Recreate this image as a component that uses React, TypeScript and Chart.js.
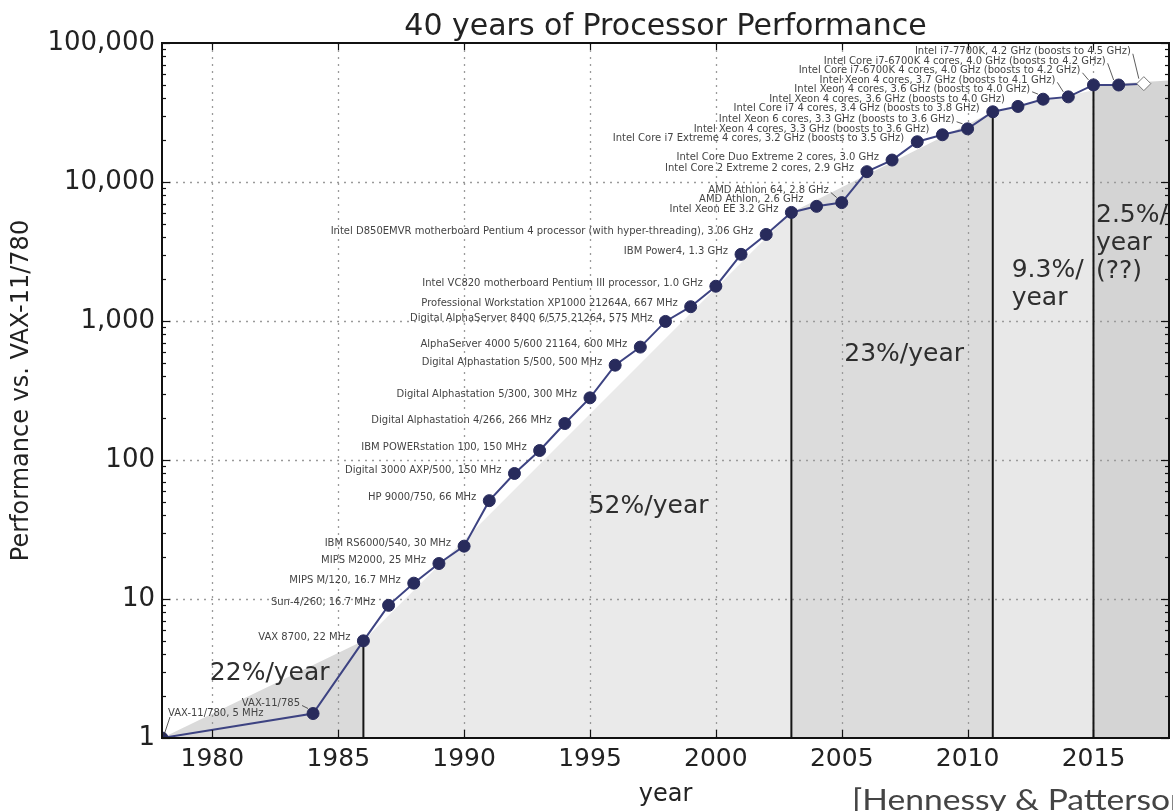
import React, { useEffect, useRef } from "react";
import { Chart, registerables } from "chart.js";

Chart.register(...registerables);

// Processor performance relative to VAX-11/780 (log scale), one entry per year
const years = [
  1978, 1984, 1986, 1987, 1988, 1989, 1990, 1991, 1992, 1993, 1994, 1995, 1996,
  1997, 1998, 1999, 2000, 2001, 2002, 2003, 2004, 2005, 2006, 2007, 2008, 2009,
  2010, 2011, 2012, 2013, 2014, 2015, 2016, 2017,
];
const performance = [
  1, 1.5, 5, 9, 13, 18, 24, 51, 80, 117, 183, 280, 481, 649, 993, 1267, 1779,
  3016, 4195, 6043, 6681, 7108, 11865, 14387, 19484, 21871, 24129, 31999,
  34967, 39419, 40967, 49935, 49870, 51000,
];
const processors = [
  "VAX-11/780, 5 MHz",
  "VAX-11/785",
  "VAX 8700, 22 MHz",
  "Sun-4/260, 16.7 MHz",
  "MIPS M/120, 16.7 MHz",
  "MIPS M2000, 25 MHz",
  "IBM RS6000/540, 30 MHz",
  "HP 9000/750, 66 MHz",
  "Digital 3000 AXP/500, 150 MHz",
  "IBM POWERstation 100, 150 MHz",
  "Digital Alphastation 4/266, 266 MHz",
  "Digital Alphastation 5/300, 300 MHz",
  "Digital Alphastation 5/500, 500 MHz",
  "AlphaServer 4000 5/600 21164, 600 MHz",
  "Digital AlphaServer 8400 6/575 21264, 575 MHz",
  "Professional Workstation XP1000 21264A, 667 MHz",
  "Intel VC820 motherboard Pentium III processor, 1.0 GHz",
  "IBM Power4, 1.3 GHz",
  "Intel D850EMVR motherboard Pentium 4 processor (with hyper-threading), 3.06 GHz",
  "Intel Xeon EE 3.2 GHz",
  "AMD Athlon, 2.6 GHz",
  "AMD Athlon 64, 2.8 GHz",
  "Intel Core 2 Extreme 2 cores, 2.9 GHz",
  "Intel Core Duo Extreme 2 cores, 3.0 GHz",
  "Intel Core i7 Extreme 4 cores, 3.2 GHz (boosts to 3.5 GHz)",
  "Intel Xeon 4 cores, 3.3 GHz (boosts to 3.6 GHz)",
  "Intel Xeon 6 cores, 3.3 GHz (boosts to 3.6 GHz)",
  "Intel Core i7 4 cores, 3.4 GHz (boosts to 3.8 GHz)",
  "Intel Xeon 4 cores, 3.6 GHz (boosts to 4.0 GHz)",
  "Intel Xeon 4 cores, 3.6 GHz (boosts to 4.0 GHz)",
  "Intel Xeon 4 cores, 3.7 GHz (boosts to 4.1 GHz)",
  "Intel Core i7-6700K 4 cores, 4.0 GHz (boosts to 4.2 GHz)",
  "Intel Core i7-6700K 4 cores, 4.0 GHz (boosts to 4.2 GHz)",
  "Intel i7-7700K, 4.2 GHz (boosts to 4.5 GHz)",
];

// Growth eras: exponential trend from start to end of each era
const eraStartYears = [1978, 1986, 2003, 2011, 2015];
const eraEndYears = [1986, 2003, 2011, 2015, 2018];
const eraStartValues = [1, 5, 6043, 31999, 49935];
const eraEndValues = [5, 6043, 31999, 45700, 53800];
const eraRates = [["22%/year"], ["52%/year"], ["23%/year"], ["9.3%/", "year"], ["2.5%/", "year", "(??)"]];

// Vertical era boundaries
const breakYears = [1986, 2003, 2011, 2015];
const breakValues = [5, 6043, 31999, 49935];

const xTicks = [1980, 1985, 1990, 1995, 2000, 2005, 2010, 2015];
const yTicks = [1, 10, 100, 1000, 10000, 100000];

// ---- styling / layout ----
const ERA_SHADES = ["#dadada", "#eaeaea", "#dcdcdc", "#e8e8e8", "#d4d4d4"];
const RATE_ANCHORS = [
  { x: 1979.9, y: 2.9 },
  { x: 1994.95, y: 46 },
  { x: 2005.1, y: 570 },
  { x: 2011.75, y: 2300 },
  { x: 2015.1, y: 5700 },
];
const FONT = '"DejaVu Sans", sans-serif';
const MAIN = eraStartYears.length + breakYears.length;

function drawGrid(chart: any) {
  const { ctx, chartArea, scales } = chart;
  const { left, right, top, bottom } = chartArea;
  ctx.save();
  ctx.strokeStyle = "#9a9a9a";
  ctx.lineWidth = 1.3;
  ctx.setLineDash([2, 5]);
  xTicks.forEach((v) => {
    const px = Math.round(scales.x.getPixelForValue(v)) + 0.5;
    ctx.beginPath();
    ctx.moveTo(px, bottom);
    ctx.lineTo(px, top);
    ctx.stroke();
  });
  yTicks.slice(1, -1).forEach((v) => {
    const py = Math.round(scales.y.getPixelForValue(v)) + 0.5;
    ctx.beginPath();
    ctx.moveTo(left, py);
    ctx.lineTo(right, py);
    ctx.stroke();
  });
  ctx.restore();
}

function drawFrame(chart: any) {
  const { ctx, chartArea, scales } = chart;
  const { left, right, top, bottom } = chartArea;
  ctx.save();
  ctx.strokeStyle = "#111";
  ctx.lineWidth = 1.2;
  const seg = (x1: number, y1: number, x2: number, y2: number) => {
    ctx.beginPath();
    ctx.moveTo(x1, y1);
    ctx.lineTo(x2, y2);
    ctx.stroke();
  };
  // inward ticks, major and minor
  xTicks.forEach((v) => {
    const px = Math.round(scales.x.getPixelForValue(v)) + 0.5;
    seg(px, bottom, px, bottom - 8);
    seg(px, top, px, top + 7);
  });
  yTicks.forEach((v, i) => {
    const py = Math.round(scales.y.getPixelForValue(v)) + 0.5;
    seg(left, py, left + 8, py);
    seg(right, py, right - 8, py);
    if (i < yTicks.length - 1) {
      for (let k = 2; k <= 9; k++) {
        const my = Math.round(scales.y.getPixelForValue(v * k)) + 0.5;
        seg(left, my, left + 4, my);
        seg(right, my, right - 4, my);
      }
    }
  });
  ctx.lineWidth = 2;
  ctx.strokeRect(left, top, right - left, bottom - top);
  ctx.restore();
}

function drawPointLabels(chart: any) {
  const { ctx } = chart;
  const meta = chart.getDatasetMeta(MAIN);
  ctx.save();
  ctx.font = `10px ${FONT}`;
  ctx.fillStyle = "#444";
  ctx.strokeStyle = "#333";
  ctx.lineWidth = 0.8;
  ctx.textBaseline = "middle";
  let prevY = Infinity;
  meta.data.forEach((pt: any, i: number) => {
    const px = pt.x;
    const py = pt.y;
    if (i === 0) {
      ctx.textAlign = "left";
      const ly = py - 25;
      ctx.fillText(processors[i], px + 6, ly);
      ctx.beginPath();
      ctx.moveTo(px + 8, ly + 4);
      ctx.lineTo(px + 2, py - 3);
      ctx.stroke();
      prevY = ly;
      return;
    }
    const natural = py - 3;
    const ly = Math.min(natural, prevY - 9.5);
    const tx = px - 13;
    ctx.textAlign = "right";
    ctx.fillText(processors[i], tx, ly);
    if (natural - ly > 6) {
      ctx.beginPath();
      ctx.moveTo(tx + 2, ly + 2);
      ctx.lineTo(px - 5, py - 5);
      ctx.stroke();
    }
    prevY = ly;
  });
  ctx.restore();
}

function drawRates(chart: any) {
  const { ctx, scales } = chart;
  ctx.save();
  ctx.font = `25px ${FONT}`;
  ctx.fillStyle = "#2e2e2e";
  ctx.textAlign = "left";
  ctx.textBaseline = "middle";
  eraRates.forEach((lines, i) => {
    const x0 = scales.x.getPixelForValue(RATE_ANCHORS[i].x);
    const y0 = scales.y.getPixelForValue(RATE_ANCHORS[i].y);
    lines.forEach((t, j) => ctx.fillText(t, x0, y0 + j * 28));
  });
  ctx.restore();
}

function drawTitles(chart: any) {
  const { ctx, chartArea } = chart;
  const { left, right, top, bottom } = chartArea;
  const cx = (left + right) / 2;
  ctx.save();
  ctx.fillStyle = "#222";
  ctx.textAlign = "center";
  ctx.textBaseline = "alphabetic";
  ctx.font = `30px ${FONT}`;
  ctx.fillText("40 years of Processor Performance", cx, 35);
  ctx.font = `24px ${FONT}`;
  ctx.textBaseline = "middle";
  ctx.fillText("year", cx, 795);
  ctx.translate(22, (top + bottom) / 2);
  ctx.rotate(-Math.PI / 2);
  ctx.fillText("Performance vs. VAX-11/780", 0, 0);
  ctx.restore();

  // source citation below the plot, running off the right edge
  ctx.save();
  ctx.font = '28px Lato, "Open Sans", sans-serif';
  ctx.fillStyle = "#444";
  ctx.textAlign = "left";
  ctx.textBaseline = "alphabetic";
  ctx.translate(852, 810);
  ctx.scale(1.2, 1);
  ctx.fillText("[Hennessy & Patterson, Computer Architecture, 2018]", 0, 0);
  ctx.restore();
}

const decorations = {
  id: "decorations",
  beforeDatasetsDraw(chart: any) {
    chart.$gridDone = false;
  },
  beforeDatasetDraw(chart: any, args: any) {
    const ds = chart.data.datasets[args.index];
    if (!chart.$gridDone && ds.order < 10) {
      drawGrid(chart);
      chart.$gridDone = true;
    }
  },
  afterDatasetsDraw(chart: any) {
    if (!chart.$gridDone) drawGrid(chart);
    drawFrame(chart);
    drawRates(chart);
    drawPointLabels(chart);
  },
  afterDraw(chart: any) {
    drawTitles(chart);
  },
};

export default function App() {
  const ref = useRef<HTMLCanvasElement>(null);

  useEffect(() => {
    document.body.style.margin = "0";
    const last = years.length - 1;

    const eraDatasets = eraStartYears.map((y0, i) => ({
      type: "line" as const,
      data: [
        { x: y0, y: eraStartValues[i] },
        { x: eraEndYears[i], y: eraEndValues[i] },
      ],
      fill: "start",
      backgroundColor: ERA_SHADES[i],
      borderColor: "rgba(0,0,0,0)",
      borderWidth: 0,
      pointRadius: 0,
      tension: 0,
      order: 10,
    }));

    const breakDatasets = breakYears.map((yr, i) => ({
      type: "line" as const,
      data: [
        { x: yr, y: 1 },
        { x: yr, y: breakValues[i] },
      ],
      fill: false,
      borderColor: "#151515",
      borderWidth: 2,
      pointRadius: 0,
      order: 5,
    }));

    const mainDataset = {
      type: "line" as const,
      data: years.map((yr, i) => ({ x: yr, y: performance[i] })),
      fill: false,
      borderColor: "#3d4382",
      borderWidth: 2,
      tension: 0,
      pointStyle: years.map((_, i) => (i === last ? "rectRot" : "circle")),
      pointRadius: years.map((_, i) => (i === last ? 7 : 6)),
      pointBackgroundColor: years.map((_, i) => (i === last ? "#ffffff" : "#282b5c")),
      pointBorderColor: years.map((_, i) => (i === last ? "#777777" : "#282b5c")),
      pointBorderWidth: 1,
      order: 2,
    };

    const chart = new Chart(ref.current as HTMLCanvasElement, {
      type: "line",
      data: { datasets: [...eraDatasets, ...breakDatasets, mainDataset] as any },
      options: {
        responsive: false,
        animation: false,
        devicePixelRatio: 1,
        layout: { autoPadding: false, padding: { top: 43, right: 4, left: 0, bottom: 0 } },
        plugins: {
          legend: { display: false },
          tooltip: { enabled: false },
          title: { display: false },
        },
        scales: {
          x: {
            type: "linear",
            min: 1978,
            max: 2018,
            afterBuildTicks: (s: any) => {
              s.ticks = xTicks.map((v) => ({ value: v }));
            },
            afterFit: (s: any) => {
              s.height = 73;
            },
            grid: { display: false, drawTicks: false },
            border: { display: false },
            ticks: {
              font: { family: "DejaVu Sans", size: 25 },
              color: "#222",
              padding: 6,
              maxRotation: 0,
              autoSkip: false,
              callback: (v: any) => String(v),
            },
          },
          y: {
            type: "logarithmic",
            min: 1,
            max: 100000,
            afterBuildTicks: (s: any) => {
              s.ticks = yTicks.map((v) => ({ value: v }));
            },
            afterFit: (s: any) => {
              s.width = 162;
            },
            grid: { display: false, drawTicks: false },
            border: { display: false },
            ticks: {
              font: { family: "DejaVu Sans", size: 26 },
              color: "#222",
              padding: 7,
              autoSkip: false,
              callback: (v: any) => Number(v).toLocaleString("en-US"),
            },
          },
        },
      },
      plugins: [decorations],
    });
    return () => chart.destroy();
  }, []);

  return <canvas ref={ref} width={1173} height={811} style={{ display: "block" }} />;
}
